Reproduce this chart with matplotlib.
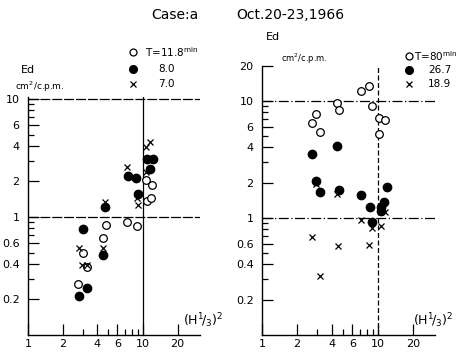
import matplotlib
matplotlib.use("Agg")
import matplotlib.pyplot as plt
from matplotlib.lines import Line2D
from matplotlib.ticker import FixedLocator, NullFormatter

plt.rcParams['font.family'] = ['DejaVu Sans']

# ---- data ----
# Left panel: T = 11.8 min (open), 8.0 (filled), 7.0 (cross)
left_open_x = [2.74, 3.0, 3.24, 4.52, 4.77, 7.2, 8.8, 10.6, 11.9, 10.8, 11.7]
left_open_y = [0.27, 0.50, 0.38, 0.66, 0.85, 0.90, 0.84, 2.06, 1.87, 1.37, 1.44]
left_fill_x = [2.79, 3.24, 3.0, 4.46, 4.67, 7.4, 8.7, 9.1, 10.8, 12.1, 11.6]
left_fill_y = [0.215, 0.25, 0.79, 0.48, 1.21, 2.21, 2.13, 1.57, 3.1, 3.1, 2.55]
left_x_x = [2.78, 2.93, 3.24, 4.46, 4.67, 7.2, 8.8, 9.1, 10.6, 10.6, 11.5]
left_x_y = [0.55, 0.39, 0.39, 0.55, 1.33, 2.64, 1.44, 1.26, 2.42, 3.9, 4.35]

# Right panel: T = 80 min (open), 26.7 (filled), 18.9 (cross)
right_open_x = [7.1, 8.4, 4.4, 4.6, 8.8, 2.9, 2.7, 3.18, 10.2, 11.6, 10.2]
right_open_y = [12.2, 13.4, 9.6, 8.4, 9.1, 7.7, 6.5, 5.4, 7.1, 6.9, 5.25]
right_fill_x = [2.7, 4.4, 2.92, 3.18, 4.6, 7.1, 8.5, 8.8, 11.9, 11.3, 10.6, 10.7]
right_fill_y = [3.5, 4.1, 2.07, 1.67, 1.74, 1.58, 1.23, 0.93, 1.82, 1.36, 1.25, 1.15]
right_x_x = [2.92, 4.4, 7.1, 8.95, 10.6, 2.7, 4.55, 8.4, 3.16, 11.6]
right_x_y = [1.94, 1.6, 0.95, 0.82, 0.85, 0.69, 0.57, 0.59, 0.32, 1.12]

left_legend = ["T=11.8", "8.0", "7.0"]
right_legend = ["T=80", "26.7", "18.9"]

x_major = [1, 2, 4, 6, 10, 20]
x_minor = [3, 5, 7, 8, 9]
y_major_left = [0.2, 0.4, 0.6, 1, 2, 4, 6, 10]
y_major_right = [0.2, 0.4, 0.6, 1, 2, 4, 6, 10, 20]
y_minor = [0.3, 0.5, 0.7, 0.8, 0.9, 3, 5, 7, 8, 9]

def fmt(v):
    return ("%g" % v)

W, H = 470, 352
fig = plt.figure(figsize=(W / 100, H / 100), dpi=100)

def px(x0, y0, x1, y1):
    # pixel box -> figure fraction rect
    return [x0 / W, 1 - y1 / H, (x1 - x0) / W, (y1 - y0) / H]

axL = fig.add_axes(px(28, 96.5, 199.5, 335))
axR = fig.add_axes(px(262, 65.5, 435, 335))

def style(ax, ymax, ymaj, vstyle, hstyle):
    ax.set_xscale('log')
    ax.set_yscale('log')
    ax.set_xlim(1, 31)
    ax.set_ylim(0.1, ymax)
    for s in ['top', 'right']:
        ax.spines[s].set_visible(False)
    for s in ['left', 'bottom']:
        ax.spines[s].set_linewidth(1.0)
    ax.xaxis.set_major_locator(FixedLocator(x_major))
    ax.xaxis.set_minor_locator(FixedLocator(x_minor))
    ax.yaxis.set_major_locator(FixedLocator(ymaj))
    ax.yaxis.set_minor_locator(FixedLocator(y_minor))
    ax.set_xticklabels([fmt(v) for v in x_major])
    ax.set_yticklabels([fmt(v) for v in ymaj])
    ax.xaxis.set_minor_formatter(NullFormatter())
    ax.yaxis.set_minor_formatter(NullFormatter())
    ax.tick_params(axis='both', which='major', direction='in', length=8,
                   width=0.9, labelsize=8, pad=4)
    ax.tick_params(axis='both', which='minor', direction='in', length=4.5,
                   width=0.9)
    ax.tick_params(axis='x', which='major', pad=3)
    ax.tick_params(axis='y', which='major', pad=6)
    ax.axhline(1, color='black', lw=0.9, ls=hstyle)
    ax.axhline(10, color='black', lw=0.9, ls=hstyle)
    ax.axvline(10, color='black', lw=0.9, ls=vstyle)

style(axL, 10.5, y_major_left, '-', (0, (8, 1.5)))
style(axR, 20, y_major_right, (0, (4, 2)), (0, (8, 2, 1, 2)))

def draw(ax, ox, oy, fx, fy, cx, cy):
    ax.plot(ox, oy, 'o', ls='none', mfc='white', mec='black', ms=5.5,
            mew=0.9, clip_on=False)
    ax.plot(fx, fy, 'o', ls='none', mfc='black', mec='black', ms=6,
            clip_on=False)
    ax.plot(cx, cy, 'x', ls='none', color='black', ms=4, mew=0.9,
            clip_on=False)

draw(axL, left_open_x, left_open_y, left_fill_x, left_fill_y,
     left_x_x, left_x_y)
draw(axR, right_open_x, right_open_y, right_fill_x, right_fill_y,
     right_x_x, right_x_y)

def fx(x):
    return x / W

def fy(y):
    return 1 - y / H

# titles
fig.text(fx(175), fy(15), "Case:a", ha='center', va='center', fontsize=10)
fig.text(fx(290), fy(15), "Oct.20-23,1966", ha='center', va='center',
         fontsize=10)

# axis unit labels
fig.text(fx(28), fy(70), "Ed", ha='center', va='center', fontsize=8)
fig.text(fx(15), fy(87), r"cm$^2$/c.p.m.", ha='left', va='center',
         fontsize=6.5)
fig.text(fx(273), fy(37), "Ed", ha='center', va='center', fontsize=8)
fig.text(fx(281), fy(59), r"cm$^2$/c.p.m.", ha='left', va='center',
         fontsize=6)

# x axis labels
xl = r"$(\mathrm{H}^{1}\!/_{3})^{2}$"
fig.text(fx(183), fy(321), xl, ha='left', va='center', fontsize=9)
fig.text(fx(413), fy(321), xl, ha='left', va='center', fontsize=9)

# legends
def legend(xm, xnum, xt, ys, labels, fs):
    styles = [dict(marker='o', mfc='white', mec='black', ms=5, mew=0.9),
              dict(marker='o', mfc='black', mec='black', ms=5.5),
              dict(marker='x', color='black', ms=4, mew=0.9)]
    for y, st, lab in zip(ys, styles, labels):
        fig.add_artist(Line2D([fx(xm)], [fy(y)], ls='none',
                              transform=fig.transFigure, **st))
        if lab.startswith("T="):
            fig.text(fx(xt), fy(y), lab + r"$^{\mathrm{min}}$", ha='left',
                     va='center', fontsize=fs)
        else:
            fig.text(fx(xnum), fy(y), lab, ha='left', va='center',
                     fontsize=fs)

legend(133, 158, 145, [52, 69, 84], left_legend, 7.5)
legend(409, 428, 414, [56, 70, 84], right_legend, 7.5)

fig.savefig("out.png", dpi=100)
